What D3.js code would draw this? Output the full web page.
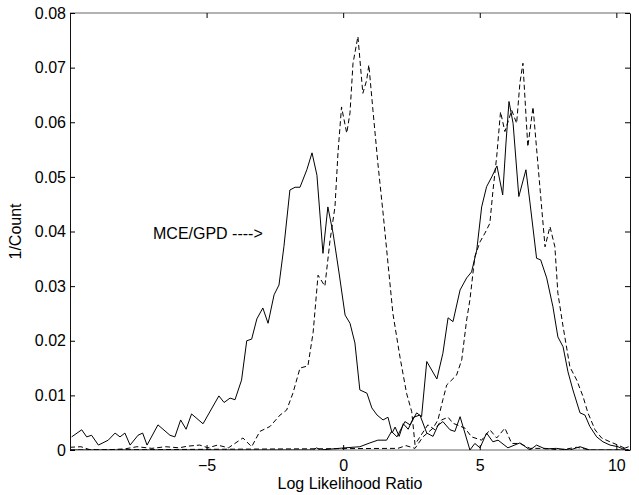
<!DOCTYPE html>
<html>
<head>
<meta charset="utf-8">
<script src="https://cdn.jsdelivr.net/npm/d3@7"></script>
<style>
  body { margin: 0; background: #fff; }
  svg text { font-family: 'Liberation Sans', Arial, sans-serif; fill: #000; }
</style>
</head>
<body>
<div id="chart"></div>
<script>
// values, [log likelihood ratio, 1/count]
const solidLeft = [
  [-9.94,0.0024],[-9.57,0.0037],[-9.39,0.0024],[-9.21,0.0027],[-8.96,0.0009],[-8.60,0.0018],
  [-8.35,0.0031],[-8.17,0.0024],[-7.99,0.0031],[-7.80,0.0009],[-7.51,0.0027],[-7.34,0.0031],
  [-7.18,0.0009],[-6.78,0.0046],[-6.34,0.0027],[-6.16,0.0024],[-5.95,0.0055],[-5.75,0.0038],
  [-5.55,0.0066],[-5.13,0.0048],[-4.55,0.0099],[-4.36,0.0087],[-4.14,0.0095],[-3.96,0.0092],
  [-3.72,0.0128],[-3.53,0.0200],[-3.35,0.0203],[-3.16,0.0240],[-2.94,0.0260],[-2.75,0.0232],
  [-2.53,0.0284],[-2.35,0.0302],[-2.17,0.0372],[-1.95,0.0476],[-1.76,0.0481],[-1.58,0.0481],
  [-1.33,0.0513],[-1.14,0.0544],[-0.96,0.0503],[-0.74,0.0360],[-0.56,0.0445],[-0.37,0.0397],
  [-0.15,0.0324],[0.07,0.0247],[0.25,0.0232],[0.43,0.0196],[0.61,0.0110],[0.87,0.0104],
  [1.05,0.0077],[1.24,0.0064],[1.46,0.0055],[1.64,0.0060],[1.79,0.0031],[1.90,0.0042],
  [2.05,0.0025],[2.20,0.0048],[2.38,0.0038],[2.58,0.0060],[2.81,0.0064],[3.06,0.0031],
  [3.29,0.0025],[3.47,0.0045],[3.65,0.0052],[3.91,0.0037],[4.09,0.0034],[4.28,0.0061],
  [4.64,0.0],[4.82,0.0012],[5.01,0.0004],[5.25,0.0031],[5.48,0.0015],[5.67,0.0018],
  [6.03,0.0004],[6.47,0.0013],[6.84,0],[7.08,0.0009],[7.39,0.0002],[7.80,0.0003],
  [8.30,0],[8.67,0.0006],[9.03,0],[10.45,0]
];

const dashedCenter = [
  [-10,0.0005],[-9.6,0.0006],[-9.3,0.0001],[-8.9,0],[-8.4,0.0001],[-8.0,0.0002],[-7.55,0.0006],
  [-7.0,0.0003],[-6.5,0.0006],[-6.0,0.0004],[-5.7,0.0007],[-5.25,0.0009],[-4.95,0.0004],
  [-4.6,0.0009],[-4.2,0.0004],[-3.67,0.0022],[-3.35,0.0006],[-3.05,0.0034],[-2.68,0.0043],
  [-2.31,0.0064],[-2.07,0.0073],[-1.84,0.0104],[-1.58,0.0150],[-1.29,0.0154],[-1.10,0.0215],
  [-0.92,0.0320],[-0.67,0.0300],[-0.48,0.0384],[-0.30,0.0445],[-0.19,0.0544],[-0.06,0.0628],
  [0.13,0.0580],[0.25,0.0617],[0.36,0.0708],[0.54,0.0757],[0.72,0.0653],[0.86,0.0677],
  [0.94,0.0705],[1.09,0.0622],[1.27,0.0525],[1.46,0.0434],[1.64,0.0342],[1.82,0.0250],
  [2.08,0.0170],[2.32,0.0104],[2.51,0.0070],[2.63,0.0010],[2.81,0.0024],[3.10,0.0046],
  [3.36,0.0037],[3.60,0.0055],[3.84,0.0060],[4.02,0.0049],[4.46,0.0040],[4.70,0.0024],
  [5.07,0.0018],[5.37,0.0037],[5.62,0.0022],[5.92,0.0040],[6.17,0.0012],[6.47,0.0012],
  [6.84,0.0003],[7.39,0.0003],[7.94,0],[8.55,0.0005],[9.03,0],[10.45,0]
];

const solidRight = [
  [-10,0],[-1.1,0],[-0.97,0.0004],[-0.85,0],[0.07,0.0004],[0.61,0.0006],[0.98,0.0013],
  [1.27,0.0018],[1.59,0.0018],[1.77,0.0034],[1.97,0.0024],[2.26,0.0052],[2.45,0.0046],
  [2.69,0.0068],[2.87,0.0061],[3.06,0.0162],[3.43,0.0130],[3.65,0.0177],[3.84,0.0242],
  [4.02,0.0235],[4.28,0.0293],[4.52,0.0315],[4.70,0.0326],[4.89,0.0366],[5.07,0.0445],
  [5.25,0.0482],[5.44,0.0500],[5.63,0.0520],[5.84,0.0467],[5.96,0.0562],[6.07,0.0638],
  [6.22,0.0598],[6.43,0.0464],[6.69,0.0513],[6.84,0.0452],[7.08,0.0351],[7.23,0.0348],
  [7.45,0.0315],[7.68,0.0262],[7.86,0.0207],[8.05,0.0189],[8.23,0.0143],[8.41,0.0110],
  [8.67,0.0068],[8.85,0.0064],[9.03,0.0043],[9.28,0.0024],[9.51,0.0015],[9.77,0.0009],
  [10.06,0.0006],[10.24,0.0002],[10.45,0.0006]
];

const dashedRight = [
  [-10,0],[2.0,0.0003],[2.3,0.0008],[2.63,0.0003],[2.92,0.0024],[3.29,0.0040],[3.47,0.0055],
  [3.65,0.0092],[3.79,0.0119],[4.15,0.0137],[4.34,0.0165],[4.52,0.0238],[4.64,0.0275],
  [4.82,0.0354],[5.01,0.0381],[5.19,0.0397],[5.37,0.0415],[5.48,0.0473],[5.62,0.0537],
  [5.76,0.0619],[5.92,0.0583],[6.17,0.0622],[6.35,0.0598],[6.47,0.0672],[6.58,0.0708],
  [6.76,0.0555],[6.95,0.0628],[7.20,0.0482],[7.39,0.0372],[7.57,0.0409],[7.75,0.0372],
  [7.86,0.0287],[8.05,0.0226],[8.30,0.0152],[8.55,0.0128],[8.78,0.0098],[8.96,0.0068],
  [9.22,0.0037],[9.46,0.0022],[9.77,0.0015],[10.06,0.0009],[10.45,0]
];

const xTicks = [-5, 0, 5, 10];
const yTicks = [0, 0.01, 0.02, 0.03, 0.04, 0.05, 0.06, 0.07, 0.08];
const yTickLabels = ['0', '0.01', '0.02', '0.03', '0.04', '0.05', '0.06', '0.07', '0.08'];

const width = 639, height = 495;
const margin = { left: 70, right: 9, top: 13, bottom: 45 };

let svg = d3.select('#chart').append('svg')
    .attr('width', width)
    .attr('height', height);

let x = d3.scaleLinear().domain([-10, 10.5]).range([margin.left, width - margin.right]);
let y = d3.scaleLinear().domain([0, 0.08]).range([height - margin.bottom, margin.top]);

svg.append('defs').append('clipPath')
    .attr('id', 'plot')
    .append('rect')
    .attr('x', x.range()[0])
    .attr('y', y.range()[1] - 1)
    .attr('width', x.range()[1] - x.range()[0])
    .attr('height', y.range()[0] - y.range()[1] + 1);

// box: top/bottom came out grey in the scan
svg.append('line')
    .attr('x1', x.range()[0]).attr('x2', x.range()[1])
    .attr('y1', y(0.08)).attr('y2', y(0.08))
    .attr('stroke', '#999').attr('stroke-width', 1.5);
svg.append('line')
    .attr('x1', x.range()[0]).attr('x2', x.range()[1])
    .attr('y1', y(0)).attr('y2', y(0))
    .attr('stroke', '#999').attr('stroke-width', 1.5);

const line = d3.line().x(d => x(d[0])).y(d => y(d[1]));

const series = [
  { data: dashedRight, dash: '5,3' },
  { data: dashedCenter, dash: '5,3' },
  { data: solidRight, dash: null },
  { data: solidLeft, dash: null }
];

svg.append('g')
    .attr('clip-path', 'url(#plot)')
    .selectAll('path')
    .data(series)
    .enter().append('path')
      .attr('d', d => line(d.data))
      .attr('fill', 'none')
      .attr('stroke', '#000')
      .attr('stroke-width', 1)
      .attr('stroke-dasharray', d => d.dash);

// axes, matlab style ticks pointing in
svg.append('g')
    .attr('transform', `translate(${x.range()[0]},0)`)
    .call(d3.axisLeft(y).tickValues(yTicks).tickFormat((d, i) => yTickLabels[i]).tickSizeInner(-5).tickSizeOuter(0).tickPadding(4))
    .call(g => g.select('.domain').attr('stroke', '#111'));

svg.append('g')
    .attr('transform', `translate(${x.range()[1]},0)`)
    .call(d3.axisRight(y).tickValues(yTicks).tickFormat('').tickSizeInner(-5).tickSizeOuter(0))
    .call(g => g.select('.domain').attr('stroke', '#111'));

svg.append('g')
    .attr('transform', `translate(0,${y(0)})`)
    .call(d3.axisBottom(x).tickValues(xTicks).tickFormat(d3.format('d')).tickSizeInner(-5).tickSizeOuter(0).tickPadding(10))
    .call(g => g.select('.domain').remove());

svg.append('g')
    .attr('transform', `translate(0,${y(0.08)})`)
    .call(d3.axisTop(x).tickValues(xTicks).tickFormat('').tickSizeInner(-5).tickSizeOuter(0))
    .call(g => g.select('.domain').remove());

svg.selectAll('.tick text')
    .style('font-size', '16px')
    .style('font-family', "'Liberation Sans', Arial, sans-serif");

// labels
svg.append('text')
    .attr('x', (x.range()[0] + x.range()[1]) / 2)
    .attr('y', 489)
    .attr('text-anchor', 'middle')
    .style('font-size', '16px')
    .text('Log Likelihood Ratio');

svg.append('text')
    .attr('transform', `translate(21,${(y.range()[0] + y.range()[1]) / 2}) rotate(-90)`)
    .attr('text-anchor', 'middle')
    .style('font-size', '16px')
    .text('1/Count');

svg.append('text')
    .attr('x', 153)
    .attr('y', 239)
    .style('font-size', '16px')
    .text('MCE/GPD ---->');
</script>
</body>
</html>
